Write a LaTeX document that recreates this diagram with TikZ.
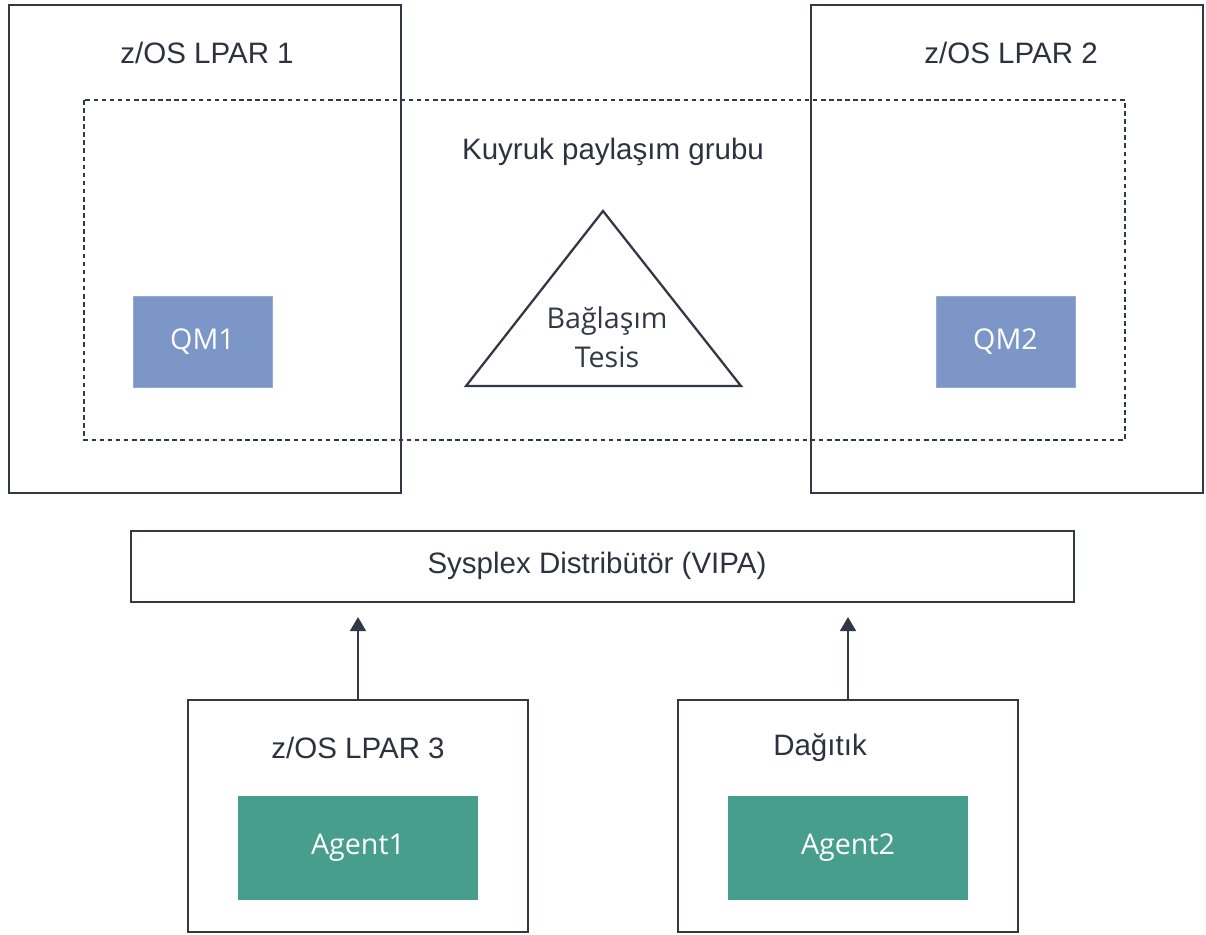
\documentclass[tikz,border=0pt]{standalone}
\usepackage{fontspec}
\setmainfont{Liberation Sans}
\newfontfamily\boxfont{Open Sans}
\usetikzlibrary{arrows.meta,positioning}
\definecolor{edgegray}{RGB}{50,56,69}
\definecolor{qmblue}{RGB}{124,150,200}
\definecolor{agentgreen}{RGB}{72,158,140}
\tikzset{
  lparbox/.style={draw=edgegray,line width=1.3pt,fill=none},
  groupbox/.style={draw=edgegray,line width=1.3pt,dash pattern=on 2.6pt off 2.0pt},
  qmbox/.style={fill=qmblue,draw=qmblue!80!white,line width=.4pt,text=white,font=\boxfont\fontsize{16.3}{19}\selectfont},
  agentbox/.style={fill=agentgreen,text=white,font=\boxfont\fontsize{16.3}{19}\selectfont},
  boxtitle/.style={text=edgegray!90!black,font=\fontsize{16.8}{20}\selectfont},
  arr/.style={-{Triangle[length=8pt,width=9pt]},line width=1.3pt,draw=edgegray}
}
\begin{document}
\begin{tikzpicture}[x=0.02cm,y=-0.02cm]
  \useasboundingbox (0,0) rectangle (1206,935);

  % LPAR boxes
  \draw[lparbox] (9,5) rectangle (401,493);
  \draw[lparbox] (811,5) rectangle (1203,493);
  \node[boxtitle] (t1) at (207,53) {z/OS LPAR 1};
  \node[boxtitle] (t2) at (1011,53) {z/OS LPAR 2};

  % queue sharing group
  \draw[groupbox] (84,100) rectangle (1125,440);
  \node[boxtitle] (qsg) at (613,152) {Kuyruk paylaşım grubu};

  \draw[edgegray,line width=1.3pt,line join=miter] (603,211) -- (741,386) -- (466,386) -- cycle;
  \node[text=edgegray,align=center,font=\boxfont\fontsize{16.3}{22}\selectfont] (cf) at (607,337) {Bağlaşım\\Tesis};

  \node[qmbox,minimum width=2.78cm,minimum height=1.82cm] (qm1) at (202.5,341.5) {QM1};
  \node[qmbox,minimum width=2.78cm,minimum height=1.82cm] (qm2) at (1005.5,341.5) {QM2};

  % distributor
  \node[lparbox,draw,minimum width=18.86cm,minimum height=1.42cm] (vipa) at (602.5,566.5) {};
  \node[boxtitle] (vipatxt) at (597,566) {Sysplex Distribütör (VIPA)};

  % agent boxes
  \node[lparbox,draw,minimum width=6.8cm,minimum height=4.64cm] (lpar3) at (358,816) {};
  \node[lparbox,draw,minimum width=6.8cm,minimum height=4.64cm] (dist) at (848,816) {};
  \node[boxtitle] (t3) at (358,748) {z/OS LPAR 3};
  \node[boxtitle] (t4) at (820,748) {Dağıtık};

  \node[agentbox,minimum width=4.8cm,minimum height=2.08cm] (ag1) at (358,848) {Agent1};
  \node[agentbox,minimum width=4.8cm,minimum height=2.08cm] (ag2) at (848,848) {Agent2};

  \coordinate (e1) at (358,617);
  \coordinate (e2) at (848,617);
  \draw[arr] (lpar3.north) -- (e1);
  \draw[arr] (dist.north) -- (e2);
\end{tikzpicture}
\end{document}
